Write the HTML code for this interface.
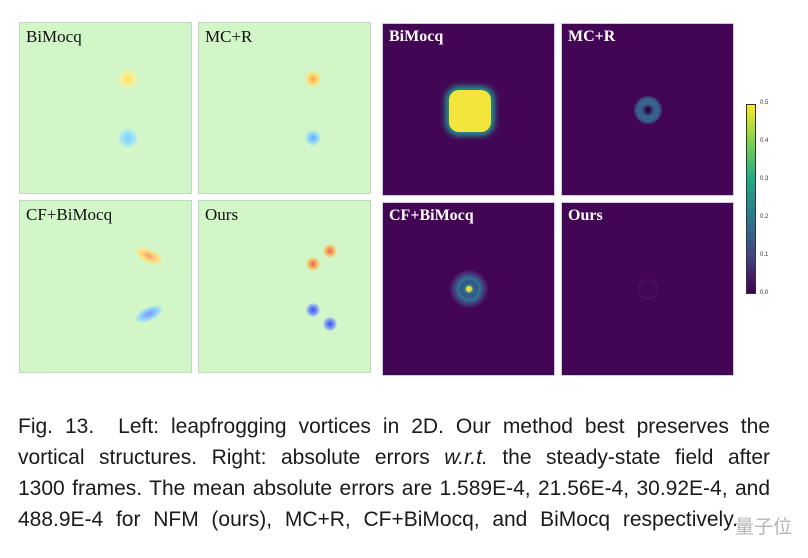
<!DOCTYPE html>
<html><head><meta charset="utf-8"><style>
body{margin:0;width:808px;height:558px;background:#fff;position:relative;overflow:hidden;font-family:"Liberation Sans",sans-serif}
.p{position:absolute;box-sizing:border-box}
.g{background:#d3f6c9;border:1.5px solid #c4d6c0}
.d{background:#430654;border:1.5px solid #cfc8d6}
.lb{position:absolute;left:6px;top:4px;font-family:"Liberation Serif",serif;font-size:16px;font-weight:bold}
.g .lb{color:#111;font-weight:normal;font-size:17px}
.d .lb{color:#fff}
.b{position:absolute;border-radius:50%}
.cap{position:absolute;left:18px;width:752px;font-size:21px;color:#1a1a1a;white-space:nowrap;text-align:justify;text-align-last:justify}
.t{position:absolute;left:760px;font-size:6px;color:#333}
</style></head><body>
<div class="p g" style="left:19px;top:22px;width:173px;height:172px"><div class="lb">BiMocq</div>
<div class="b" style="left:98px;top:46px;width:20px;height:20px;background:radial-gradient(#ffe066,#f5f0a0 50%,rgba(211,246,201,0) 75%)"></div>
<div class="b" style="left:98px;top:105px;width:20px;height:20px;background:radial-gradient(#7fd0ff,#a8e8f0 50%,rgba(211,246,201,0) 75%)"></div></div>
<div class="p g" style="left:198px;top:22px;width:173px;height:172px"><div class="lb">MC+R</div>
<div class="b" style="left:106px;top:48px;width:16px;height:16px;background:radial-gradient(#f4a060,#ffe070 45%,rgba(211,246,201,0) 75%)"></div>
<div class="b" style="left:106px;top:107px;width:16px;height:16px;background:radial-gradient(#70a0ff,#90e0f0 45%,rgba(211,246,201,0) 75%)"></div></div>
<div class="p g" style="left:19px;top:200px;width:173px;height:173px"><div class="lb">CF+BiMocq</div>
<div class="b" style="left:114px;top:48px;width:30px;height:14px;transform:rotate(25deg);background:radial-gradient(#f0a070,#ffe080 45%,rgba(211,246,201,0) 75%)"></div>
<div class="b" style="left:114px;top:106px;width:30px;height:14px;transform:rotate(-25deg);background:radial-gradient(#8090ff,#90d8f8 45%,rgba(211,246,201,0) 75%)"></div></div>
<div class="p g" style="left:198px;top:200px;width:173px;height:173px"><div class="lb">Ours</div>
<div class="b" style="left:124px;top:43px;width:14px;height:14px;background:radial-gradient(#e06060,#f8c060 45%,rgba(211,246,201,0) 75%)"></div>
<div class="b" style="left:107px;top:56px;width:14px;height:14px;background:radial-gradient(#e06060,#f8c060 45%,rgba(211,246,201,0) 75%)"></div>
<div class="b" style="left:107px;top:102px;width:14px;height:14px;background:radial-gradient(#4050e0,#80a0f8 45%,rgba(211,246,201,0) 75%)"></div>
<div class="b" style="left:124px;top:116px;width:14px;height:14px;background:radial-gradient(#4050e0,#80a0f8 45%,rgba(211,246,201,0) 75%)"></div></div>

<div class="p d" style="left:382px;top:23px;width:173px;height:173px"><div class="lb">BiMocq</div>
<div style="position:absolute;left:62px;top:62px;width:50px;height:50px;border-radius:14px;background:#21918c;filter:blur(3px)"></div>
<div style="position:absolute;left:66px;top:66px;width:42px;height:42px;border-radius:10px;background:#f4e53a"></div></div>
<div class="p d" style="left:561px;top:23px;width:173px;height:173px"><div class="lb">MC+R</div>
<div class="b" style="left:72px;top:72px;width:28px;height:28px;background:radial-gradient(#2a0a40 10%,#3a5f8a 30%,#35648c 55%,#430654 80%)"></div></div>
<div class="p d" style="left:382px;top:202px;width:173px;height:174px"><div class="lb">CF+BiMocq</div>
<div class="b" style="left:67px;top:67px;width:38px;height:38px;background:radial-gradient(#e8e040 8%,#2a6f8a 16%,#3b5088 30%,#2a7890 40%,#463a80 55%,#430654 75%)"></div></div>
<div class="p d" style="left:561px;top:202px;width:173px;height:174px"><div class="lb">Ours</div>
<div class="b" style="left:76px;top:76px;width:20px;height:20px;border:1px solid #4a1a6a;box-sizing:border-box"></div></div>

<div class="p" style="left:746px;top:104px;width:10px;height:190px;border:1px solid #333;background:linear-gradient(#fde725,#7ad151,#22a884,#2a788e,#414487,#440154)"></div>
<div class="t" style="top:100px">0.5</div><div class="t" style="top:138px">0.4</div><div class="t" style="top:176px">0.3</div>
<div class="t" style="top:214px">0.2</div><div class="t" style="top:252px">0.1</div><div class="t" style="top:290px">0.0</div>

<div class="cap" style="top:415px">Fig. 13.&nbsp; Left: leapfrogging vortices in 2D. Our method best preserves the</div>
<div class="cap" style="top:446px">vortical structures. Right: absolute errors <i>w.r.t.</i> the steady-state field after</div>
<div class="cap" style="top:477px">1300 frames. The mean absolute errors are 1.589E-4, 21.56E-4, 30.92E-4, and</div>
<div class="cap" style="top:508px;width:720px">488.9E-4 for NFM (ours), MC+R, CF+BiMocq, and BiMocq respectively.</div>
<div style="position:absolute;left:735px;top:512px;font-size:19px;color:rgba(150,150,150,0.7);font-family:'Liberation Sans','Noto Sans CJK SC',sans-serif">量子位</div>
</body></html>
